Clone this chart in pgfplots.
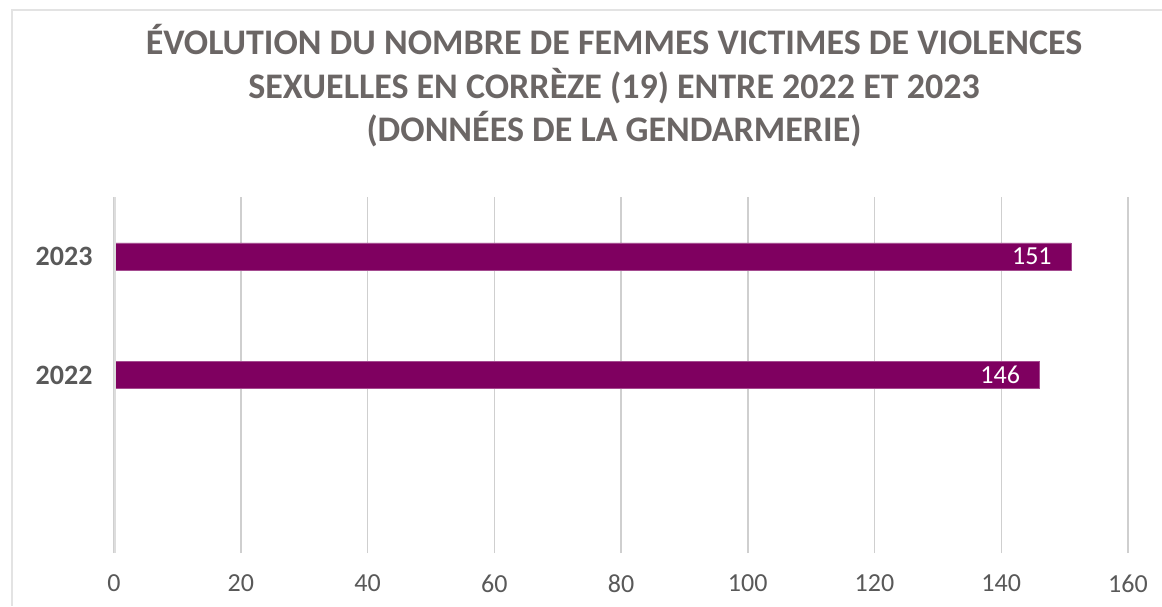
\documentclass[border=0pt]{standalone}
\usepackage{fontspec}
\setmainfont{Carlito}
\usepackage{pgfplots}
\pgfplotsset{compat=1.18}
\definecolor{barpurple}{HTML}{7F0060}
\definecolor{titlegray}{HTML}{6B6665}
\definecolor{labgray}{HTML}{595959}
\definecolor{gridgray}{HTML}{CFCFCF}
\definecolor{framegray}{HTML}{E3E3E3}
\begin{document}
\begin{tikzpicture}[x=1pt,y=1pt]
\useasboundingbox (0,0) rectangle (1162,606);
% frame
\draw[framegray, line width=1.5pt] (12,0) -- (12,596) -- (1162,596);
% title
\node[anchor=base, align=center, text=titlegray, font=\fontsize{36}{43.5}\selectfont\bfseries, inner sep=0pt]
  at (614,464) {ÉVOLUTION DU NOMBRE DE FEMMES VICTIMES DE VIOLENCES\\SEXUELLES EN CORRÈZE (19) ENTRE 2022 ET 2023\\(DONNÉES DE LA GENDARMERIE)};
\begin{axis}[
  at={(114pt,53pt)}, anchor=south west,
  scale only axis, width=1014pt, height=356pt,
  xbar, bar width=27pt,
  xmin=0, xmax=160, ymin=-0.5, ymax=2.5,
  xtick={0,20,...,160},
  ytick={1,2}, yticklabels={2022,2023},
  major tick length=0pt,
  axis line style={draw=none},
  xmajorgrids, grid style={gridgray, line width=1.5pt},
  /pgf/number format/assume math mode=true,
  xticklabel style={font=\fontsize{26}{30}\selectfont, text=labgray, yshift=-18pt},
  yticklabel style={font=\fontsize{28}{32}\selectfont\bfseries, text=labgray, xshift=-18pt},
  nodes near coords,
  nodes near coords style={anchor=east, text=white, inner sep=0pt, xshift=-19pt, font=\fontsize{26}{30}\selectfont},
]
\addplot[fill=barpurple, draw=barpurple!70!white, line width=0.6pt] coordinates {(151,2) (146,1)};
\draw[gridgray!70!white, line width=3pt] (axis cs:0,-0.5) -- (axis cs:0,2.5);
\end{axis}
\end{tikzpicture}
\end{document}
